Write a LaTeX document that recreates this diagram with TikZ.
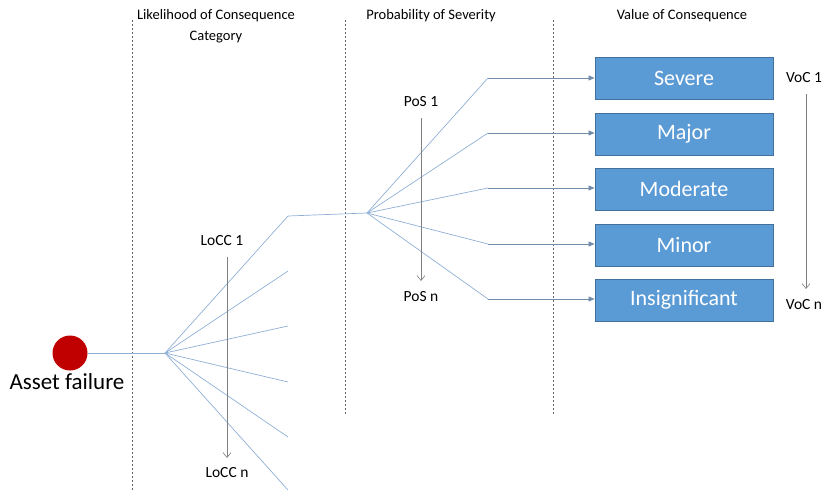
\documentclass[tikz,border=0pt]{standalone}
\usepackage{fontspec}
\setmainfont{Carlito}
\usetikzlibrary{arrows.meta}
\definecolor{boxfill}{HTML}{5B9BD5}
\definecolor{boxedge}{HTML}{41719C}
\definecolor{branch}{HTML}{8FB0D5}
\definecolor{failred}{HTML}{C00000}
\tikzset{
  divider/.style={dash pattern=on 2pt off 2pt, gray!80!black, line width=0.5pt},
  twig/.style={branch, line width=0.7pt},
  feed/.style={branch!80!black, line width=0.7pt, -{Triangle[length=6pt,width=5pt]}},
  sevbox/.style={draw=boxedge, fill=boxfill, line width=0.8pt, minimum width=178pt, minimum height=42pt, text=white, font=\fontsize{22}{26}\selectfont, inner sep=0pt},
  rankarrow/.style={gray, line width=0.6pt, -{Straight Barb[length=5pt,width=8pt]}},
  lbl/.style={font=\fontsize{15.5}{18}\selectfont, inner sep=1pt},
  hdr/.style={font=\fontsize{14.5}{21}\selectfont, align=center, inner sep=0pt}
}
\begin{document}
\begin{tikzpicture}[x=1pt, y=-1pt]
\useasboundingbox (0,0) rectangle (834,490);

% column dividers
\draw[divider] (132,20) -- (132,490);
\draw[divider] (345,20) -- (345,415);
\draw[divider] (553,20) -- (553,415);

% column headings
\node[hdr, anchor=north] (h1) at (216,9) {Likelihood of Consequence\\Category};
\node[hdr, anchor=north] (h2) at (431,9) {Probability of Severity};
\node[hdr, anchor=north] (h3) at (682,9) {Value of Consequence};

% asset failure
\node[circle, fill=failred, minimum size=35pt, inner sep=0pt] (fail) at (70,353) {};
\node[font=\fontsize{23}{26}\selectfont, inner sep=0pt] (failtxt) at (67,382) {Asset failure};

% first fan: likelihood of consequence category
\coordinate (hubA) at (165,353);
\draw[twig] (fail.east) -- (hubA);
\coordinate (a1) at (288,216);
\coordinate (a2) at (288,271);
\coordinate (a3) at (288,326);
\coordinate (a4) at (288,382);
\coordinate (a5) at (288,437);
\coordinate (a6) at (288,490);
\foreach \t in {a1,a2,a3,a4,a5,a6} \draw[twig] (hubA) -- (\t);

% second fan: probability of severity
\coordinate (hubB) at (367,213);
\draw[twig] (a1) -- (hubB);
\coordinate (b1) at (488,78);
\coordinate (b2) at (488,133);
\coordinate (b3) at (488,188);
\coordinate (b4) at (488,244);
\coordinate (b5) at (488,299);
\foreach \t in {b1,b2,b3,b4,b5} \draw[twig] (hubB) -- (\t);

% consequence categories
\node[sevbox] (s1) at (684,78) {Severe};
\node[sevbox] (s2) at (684,134) {Major};
\node[sevbox] (s3) at (684,189) {Moderate};
\node[sevbox] (s4) at (684,245) {Minor};
\node[sevbox] (s5) at (684,300) {Insignificant};
\draw[feed] (b1) -- (s1.west |- b1);
\draw[feed] (b2) -- (s2.west |- b2);
\draw[feed] (b3) -- (s3.west |- b3);
\draw[feed] (b4) -- (s4.west |- b4);
\draw[feed] (b5) -- (s5.west |- b5);

% ordering scales
\node[lbl] (l1) at (222,241) {LoCC 1};
\node[lbl] (ln) at (227,473) {LoCC n};
\draw[rankarrow] (227,257) -- (227,458);

\node[lbl] (p1) at (421,102) {PoS 1};
\node[lbl] (pn) at (421,297) {PoS n};
\draw[rankarrow] (421,118) -- (421,281);

\node[lbl] (v1) at (804,78) {VoC 1};
\node[lbl] (vn) at (804,305) {VoC n};
\draw[rankarrow] (806,94) -- (806,289);
\end{tikzpicture}
\end{document}
